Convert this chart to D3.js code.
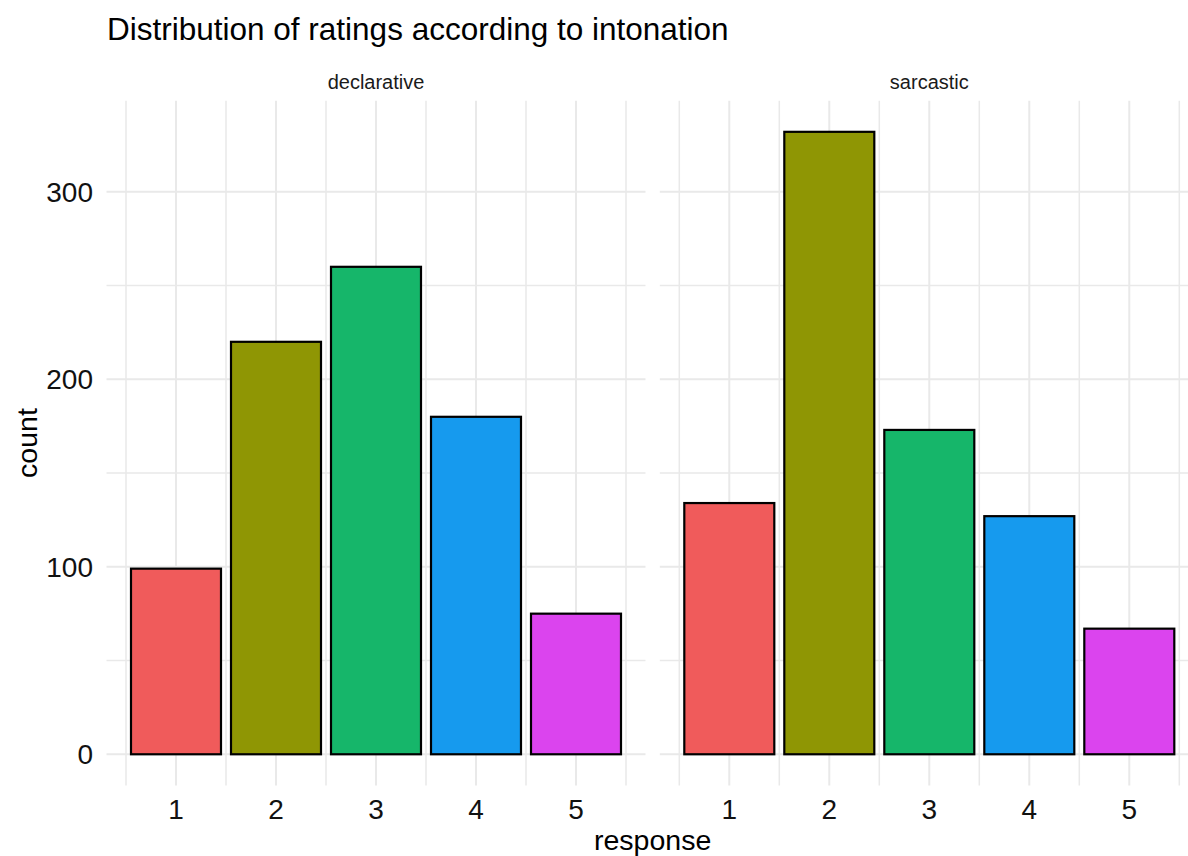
<!DOCTYPE html>
<html>
<head>
<meta charset="utf-8">
<script src="https://cdn.jsdelivr.net/npm/d3@7"></script>
<style>
  html, body { margin: 0; padding: 0; background: #fff; }
  svg { display: block; font-family: "Liberation Sans", Arial, Helvetica, sans-serif; }
</style>
</head>
<body>
<svg id="chart" width="1188" height="856"></svg>
<script>
// ---- data ----
const responses = [1, 2, 3, 4, 5];
const facets = ["declarative", "sarcastic"];
const declarativeCounts = [99, 220, 260, 180, 75];
const sarcasticCounts = [134, 332, 173, 127, 67];
const fillColors = ["#F05B5B", "#8F9604", "#16B66A", "#169AEE", "#DB44EE"];
const yTicks = [0, 100, 200, 300];
const yMinor = [50, 150, 250];
const xMinor = [0.5, 1.5, 2.5, 3.5, 4.5, 5.5];
const titleText = "Distribution of ratings according to intonation";

const countsByFacet = { declarative: declarativeCounts, sarcastic: sarcasticCounts };

// ---- layout ----
const W = 1188, H = 856;
const panelW = 539;
const panelLefts = [106.5, 659.8];
const panelTop = 100.7, panelBottom = 785.4;
const gridColor = "#E9E9E9";

const svg = d3.select("#chart");

const maxCount = d3.max([...declarativeCounts, ...sarcasticCounts]);
const yPad = maxCount * 0.05;
const y = d3.scaleLinear().domain([-16.6, maxCount + yPad]).range([panelBottom, panelTop]);

// x domain: bars span 0.55..5.45, 5% expansion
const xLo = 0.55, xHi = 5.45, xr = xHi - xLo;
const xDomain = [xLo - 0.05 * xr, xHi + 0.05 * xr];

facets.forEach((f, i) => {
  const x = d3.scaleLinear().domain(xDomain).range([panelLefts[i], panelLefts[i] + panelW]);
  const g = svg.append("g");
  const xl = Math.max(0, panelLefts[i]), xrr = Math.min(W, panelLefts[i] + panelW);

  g.selectAll(".hmin").data(yMinor).join("line")
    .attr("x1", xl).attr("x2", xrr)
    .attr("y1", d => y(d)).attr("y2", d => y(d))
    .attr("stroke", gridColor).attr("stroke-width", 1.5);
  g.selectAll(".vmin").data(xMinor).join("line")
    .attr("x1", d => x(d)).attr("x2", d => x(d))
    .attr("y1", panelTop).attr("y2", panelBottom)
    .attr("stroke", gridColor).attr("stroke-width", 1.5);
  g.selectAll(".hmaj").data(yTicks).join("line")
    .attr("x1", xl).attr("x2", xrr)
    .attr("y1", d => y(d)).attr("y2", d => y(d))
    .attr("stroke", gridColor).attr("stroke-width", 2);
  g.selectAll(".vmaj").data(responses).join("line")
    .attr("x1", d => x(d)).attr("x2", d => x(d))
    .attr("y1", panelTop).attr("y2", panelBottom)
    .attr("stroke", gridColor).attr("stroke-width", 2);

  const vals = countsByFacet[f];
  g.selectAll("rect.bar").data(responses).join("rect")
    .attr("class", "bar")
    .attr("x", d => x(d - 0.45))
    .attr("width", d => x(d + 0.45) - x(d - 0.45))
    .attr("y", (d, j) => y(vals[j]))
    .attr("height", (d, j) => y(0) - y(vals[j]))
    .attr("fill", (d, j) => fillColors[j])
    .attr("stroke", "#000").attr("stroke-width", 2.2);

  g.selectAll("text.xt").data(responses).join("text")
    .attr("class", "xt")
    .attr("x", d => x(d)).attr("y", 819)
    .attr("text-anchor", "middle")
    .attr("font-size", 28).attr("fill", "#111")
    .text(d => d);

  g.append("text")
    .attr("x", panelLefts[i] + panelW / 2).attr("y", 89)
    .attr("text-anchor", "middle")
    .attr("font-size", 20).attr("fill", "#1a1a1a")
    .text(f);
});

svg.selectAll("text.yt").data(yTicks).join("text")
  .attr("class", "yt")
  .attr("x", 93).attr("y", d => y(d))
  .attr("dy", "0.36em")
  .attr("text-anchor", "end")
  .attr("font-size", 28).attr("fill", "#111")
  .text(d => d);

svg.append("text")
  .attr("x", (panelLefts[0] + panelLefts[1] + panelW) / 2).attr("y", 850)
  .attr("text-anchor", "middle")
  .attr("font-size", 28.5).attr("fill", "#000")
  .text("response");

svg.append("text")
  .attr("transform", `translate(37, ${(panelTop + panelBottom) / 2}) rotate(-90)`)
  .attr("text-anchor", "middle")
  .attr("font-size", 28.5).attr("fill", "#000")
  .text("count");

svg.append("text")
  .attr("x", 107).attr("y", 40)
  .attr("font-size", 31.5).attr("fill", "#000")
  .text(titleText);
</script>
</body>
</html>
